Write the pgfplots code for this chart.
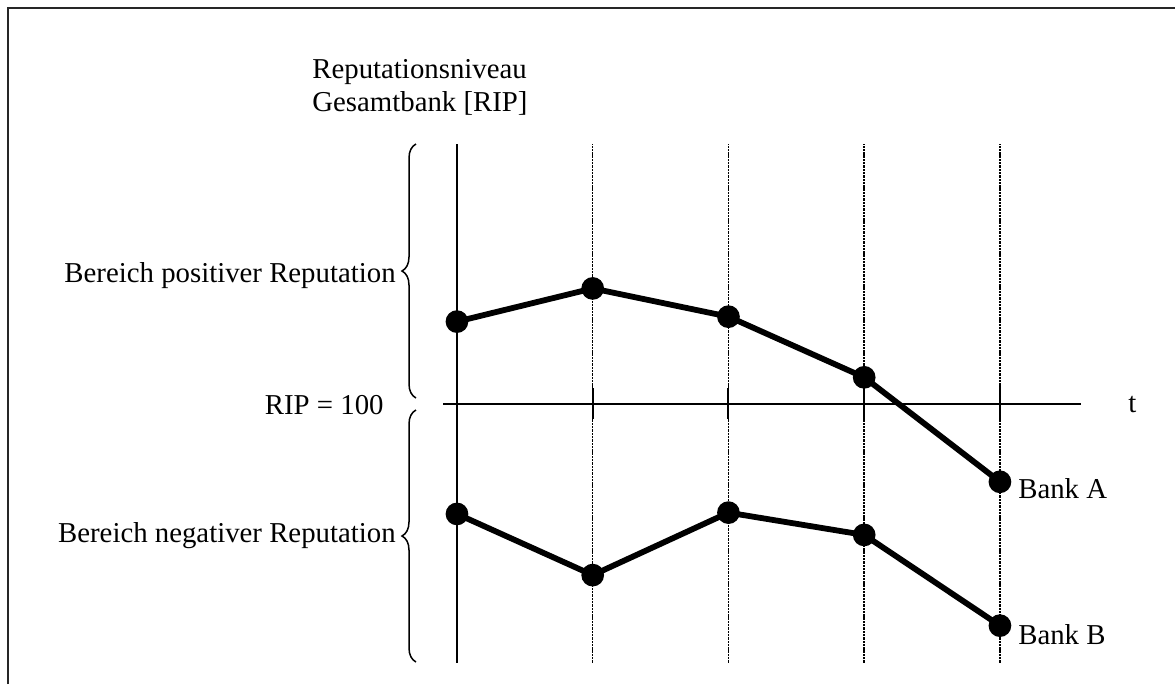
\documentclass[border=0pt]{standalone}
\usepackage{pgfplots}
\pgfplotsset{compat=1.18}
\usepackage{fontspec}
\setmainfont{Liberation Serif}
\usetikzlibrary{decorations.pathreplacing}
\begin{document}
\begin{tikzpicture}[x=0.5pt,y=-0.5pt,font=\fontsize{14.4}{16}\selectfont]
\useasboundingbox (0,0) rectangle (1175,687);
% frame
\draw[line width=1pt,black!85] (8,684) -- (8,8) -- (1176,8);
% title
\node[anchor=base west,inner sep=0pt] at (312,78) {Reputationsniveau};
\node[anchor=base west,inner sep=0pt] at (312,111) {Gesamtbank [RIP]};
% left labels
\node[anchor=base east,inner sep=0pt] at (396,282) {Bereich positiver Reputation};
\node[anchor=base east,inner sep=0pt] at (396,542) {Bereich negativer Reputation};
\node[anchor=base east,inner sep=0pt] at (384,414) {RIP = 100};
\node[anchor=base west,inner sep=0pt] at (1128,412) {t};
% braces
\draw[line width=0.75pt,decorate,decoration={brace,amplitude=7pt}] (416,398) -- (416,144);
\draw[line width=0.75pt,decorate,decoration={brace,amplitude=7pt}] (416,662) -- (416,410);
\coordinate (AX) at (443.4,662.7);
\begin{axis}[
  at={(AX)}, anchor=south west,
  scale only axis, width=319.0pt, height=259.2pt,
  xmin=-0.1, xmax=4.6, ymin=0, ymax=200,
  axis lines=none, clip=false,
]
% time lines
\draw[line width=0.9pt] (axis cs:0,0) -- (axis cs:0,200);
\pgfplotsinvokeforeach{1,2,3,4}{
  \draw[line width=0.75pt,dash pattern=on 1.2pt off 0.45pt] (axis cs:#1,0) -- (axis cs:#1,200);
  \draw[line width=1pt] (axis cs:#1,94) -- (axis cs:#1,106);
}
% RIP = 100 line
\draw[line width=1pt] (axis cs:-0.1,100) -- (axis cs:4.6,100);
% Bank A
\addplot[black,line width=2.9pt,mark=*,mark size=4.2pt] coordinates {
  (0,131.6) (1,144.4) (2,133.5) (3,110.1) (4,69.8)
};
% Bank B
\addplot[black,line width=2.9pt,mark=*,mark size=4.2pt] coordinates {
  (0,57.4) (1,33.8) (2,57.9) (3,49.3) (4,14.3)
};
\node[anchor=base west,inner sep=0pt] at (axis cs:4,69.8) [xshift=9pt,yshift=-8.5pt] {Bank A};
\node[anchor=base west,inner sep=0pt] at (axis cs:4,14.3) [xshift=9pt,yshift=-9.5pt] {Bank B};
\end{axis}
\end{tikzpicture}
\end{document}
